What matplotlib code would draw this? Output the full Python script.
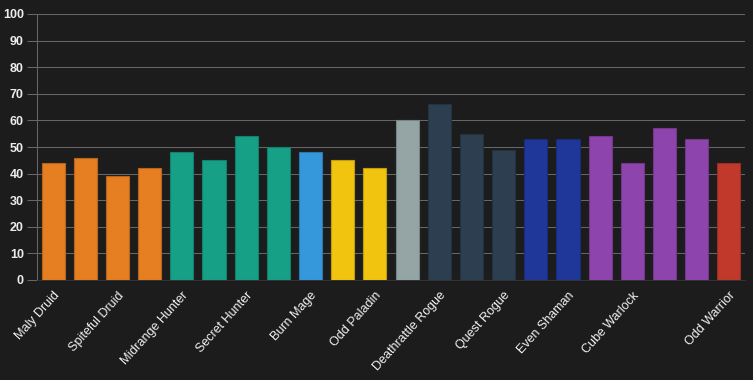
import matplotlib
matplotlib.use("Agg")
import matplotlib.pyplot as plt
import numpy as np

categories = ["Maly Druid", "Taunt Druid", "Spiteful Druid", "Token Druid",
              "Midrange Hunter", "Recruit Hunter", "Secret Hunter", "Spell Hunter",
              "Burn Mage", "Even Paladin", "Odd Paladin", "Spiteful Priest",
              "Deathrattle Rogue", "Odd Rogue", "Quest Rogue", "Shudderwock Shaman",
              "Even Shaman", "Control Warlock", "Cube Warlock", "Even Warlock",
              "Zoo Warlock", "Odd Warrior"]
values = [44, 46, 39, 42, 48, 45, 54, 50, 48, 45, 42, 60, 66, 55, 49, 53, 53, 54, 44, 57, 53, 44]
bar_colors = ["#e67e22"] * 4 + ["#16a085"] * 4 + ["#3498db"] + ["#f1c40f"] * 2 + \
             ["#95a5a6"] + ["#2c3e50"] * 3 + ["#1e3799"] * 2 + ["#8e44ad"] * 4 + ["#c0392b"]
shown_labels = [0, 2, 4, 6, 8, 10, 12, 14, 16, 18, 21]
yticks = list(range(0, 101, 10))

bg = "#1c1c1c"
fig = plt.figure(figsize=(7.53, 3.8), dpi=100, facecolor=bg)
ax = fig.add_axes([37 / 753, 1 - 280 / 380, (745 - 37) / 753, (280 - 14) / 380])
ax.set_facecolor(bg)

x = np.arange(len(categories))
edge_colors = [matplotlib.colors.to_hex(np.array(matplotlib.colors.to_rgb(c)) * 0.8) for c in bar_colors]
ax.bar(x, values, width=0.72, color=bar_colors, edgecolor=edge_colors,
       linewidth=0.8, zorder=3)

ax.set_xlim(-0.5, len(categories) - 0.5)
ax.set_ylim(0, 100)
ax.set_yticks(yticks)
ax.set_yticklabels([str(t) for t in yticks], fontsize=9, fontweight="bold",
                   color="#ececec", family=["Liberation Sans", "DejaVu Sans"])
ax.tick_params(axis="y", length=7.5, width=0.75, color="#666666", pad=2)
ax.grid(axis="y", color="#666666", linewidth=0.75, zorder=0)

ax.set_xticks([x[i] for i in shown_labels])
ax.set_xticklabels([categories[i] for i in shown_labels], rotation=48, ha="right",
                   rotation_mode="anchor", fontsize=9, color="#f2f2f2",
                   family=["Liberation Sans", "DejaVu Sans"])
ax.tick_params(axis="x", length=0, pad=7)

for s in ["top", "right"]:
    ax.spines[s].set_visible(False)
ax.spines["left"].set_color("#666666")
ax.spines["left"].set_linewidth(0.75)
ax.spines["bottom"].set_color("#333333")
ax.spines["bottom"].set_linewidth(0.75)

fig.savefig("out.png", dpi=100, facecolor=bg)
